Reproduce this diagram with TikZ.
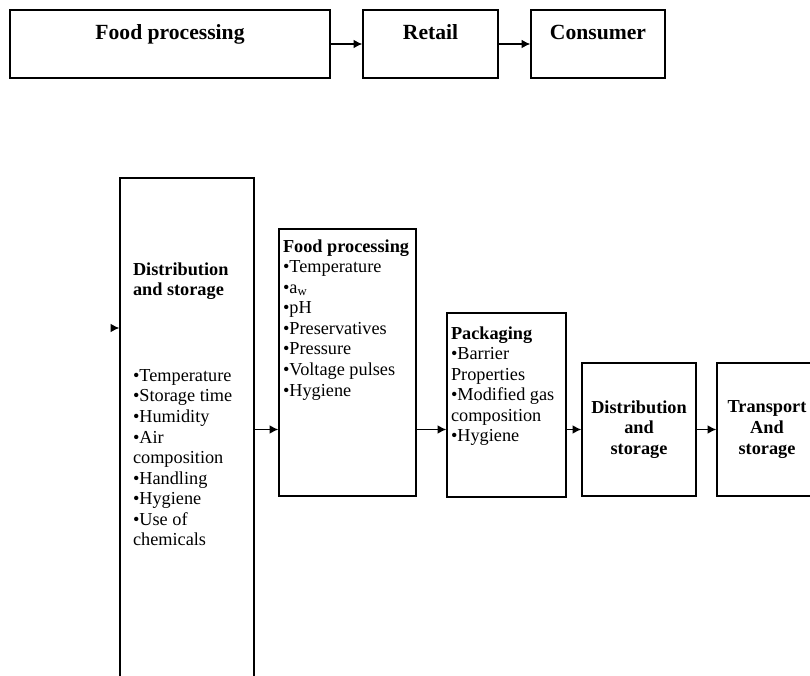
\documentclass[tikz,border=0pt]{standalone}
\usepackage{fontspec}
\setmainfont{Liberation Serif}
\usetikzlibrary{arrows.meta}

\begin{document}
\begin{tikzpicture}[node distance=5.21cm, >={Latex[length=5pt,width=5pt]}, line width=0.8pt,
    font=\fontsize{10.4}{11.7}\selectfont]
    \tikzstyle{block} = [draw, rectangle, inner sep=0pt]
    \tikzstyle{head} = [font=\fontsize{12.3}{14}\selectfont\bfseries, anchor=north, inner sep=0pt, yshift=-0.3cm]
    \tikzstyle{list} = [align=left, anchor=north west, inner sep=0pt]
    \tikzstyle{link} = [->, line width=0.7pt]

    \clip (0,0) rectangle (16.2,-13.52);

    % top chain
    \node [block, minimum width=6.4cm, minimum height=1.36cm, label={[head]north:Food processing}] (fp) at (3.40,-0.88) {};
    \node [block, right of=fp, minimum width=2.7cm, minimum height=1.36cm, label={[head]north:Retail}] (retail) {};
    \node [block, right of=retail, node distance=3.35cm, minimum width=2.68cm, minimum height=1.36cm, label={[head]north:Consumer}] (consumer) {};

    % lower chain
    \node [block, minimum width=2.68cm, minimum height=10.44cm,
        label={[list, xshift=0.26cm, yshift=-1.69cm]north west:{\textbf{Distribution}\\\textbf{and storage}\\[37pt]
        •Temperature\\•Storage time\\•Humidity\\•Air\\composition\\•Handling\\•Hygiene\\•Use of\\chemicals}}] (ds1) at (3.74,-8.78) {};
    \node [block, minimum width=2.74cm, minimum height=5.34cm,
        label={[list, xshift=0.08cm, yshift=-0.21cm]north west:{\textbf{Food processing}\\•Temperature\\•a\textsubscript{w}\\•pH\\•Preservatives\\•Pressure\\•Voltage pulses\\•Hygiene}}] (fp2) at (6.95,-7.25) {};
    \node [block, minimum width=2.38cm, minimum height=3.68cm,
        label={[list, xshift=0.08cm, yshift=-0.27cm]north west:{\textbf{Packaging}\\•Barrier\\Properties\\•Modified gas\\composition\\•Hygiene}}] (pack) at (10.13,-8.10) {};
    \node [block, minimum width=2.28cm, minimum height=2.66cm, align=center, font=\fontsize{10.4}{11.7}\selectfont\bfseries] (ds2) at (12.78,-8.59) {Distribution\\and\\storage};
    \node [block, right of=ds2, node distance=2.56cm, minimum width=2.0cm, minimum height=2.66cm, align=center, font=\fontsize{10.4}{11.7}\selectfont\bfseries] (trans) {Transport\\And\\storage};

    \coordinate (feed) at (2.22,-6.56);

    \draw [link] (fp) -- (retail);
    \draw [link] (retail) -- (consumer);
    \draw [link] (feed) -- (ds1.west |- feed);
    \draw [link] (ds1.east |- ds2.west) -- (fp2.west |- ds2.west);
    \draw [link] (fp2.east |- ds2.west) -- (pack.west |- ds2.west);
    \draw [link] (pack.east |- ds2.west) -- (ds2.west);
    \draw [link] (ds2) -- (trans);
\end{tikzpicture}
\end{document}
